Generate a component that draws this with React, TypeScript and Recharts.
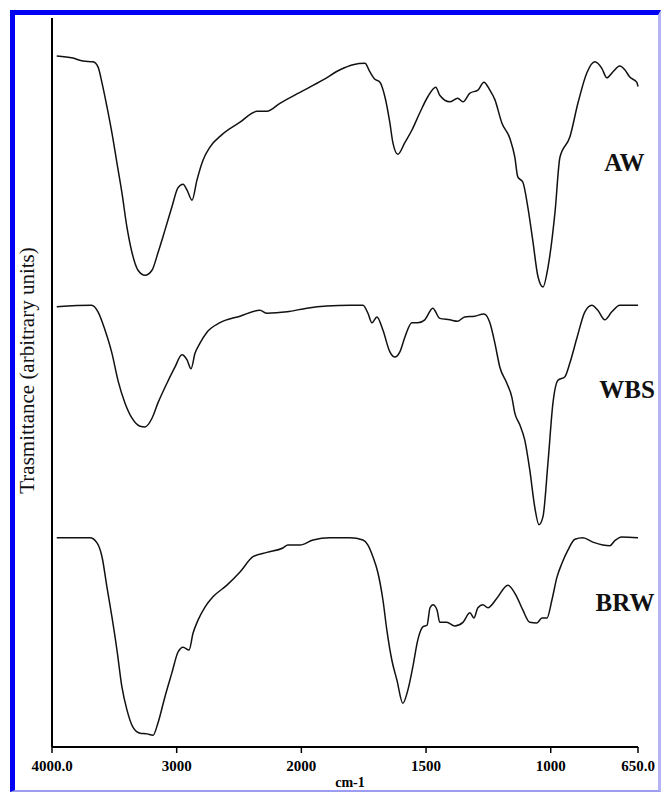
import React from 'react';
import { LineChart, Line, XAxis, YAxis, ReferenceDot } from 'recharts';

// wavenumbers (cm-1) and transmittance (arbitrary units)
const awWn = [3962, 3832, 3751, 3671, 3631, 3599, 3559, 3519, 3479, 3439, 3399, 3358, 3310, 3254, 3198, 3150, 3094, 3038, 2990, 2949, 2917, 2877, 2837, 2789, 2733, 2637, 2492, 2356, 2276, 2172, 2011, 1913, 1845, 1793, 1745, 1725, 1705, 1685, 1665, 1645, 1633, 1613, 1585, 1557, 1525, 1493, 1461, 1445, 1405, 1373, 1352, 1324, 1292, 1268, 1244, 1224, 1196, 1164, 1144, 1132, 1112, 1092, 1072, 1051, 1031, 1011, 983, 963, 923, 891, 855, 823, 795, 775, 751, 723, 703, 683, 655, 650];
const awT = [94.8, 94.5, 94.1, 94.0, 93.3, 91.1, 87.8, 84.2, 80.1, 76.0, 71.3, 67.8, 65.4, 64.7, 65.4, 67.8, 70.9, 74.1, 76.7, 77.2, 76.4, 75.0, 77.8, 80.5, 82.3, 84.0, 85.7, 87.2, 87.2, 88.3, 89.8, 91.5, 92.9, 93.6, 93.8, 92.6, 91.6, 91.2, 89.2, 85.6, 82.9, 81.3, 82.9, 84.6, 87.0, 89.2, 90.5, 89.4, 88.5, 89.0, 88.5, 89.7, 90.1, 91.2, 90.1, 88.8, 85.6, 83.5, 80.9, 78.2, 77.5, 74.1, 69.5, 64.5, 63.1, 65.8, 73.3, 80.9, 83.7, 88.3, 92.5, 94.0, 93.1, 91.8, 92.6, 93.4, 92.9, 91.9, 91.2, 90.6];

const wbsWn = [3962, 3682, 3631, 3575, 3519, 3471, 3415, 3358, 3294, 3254, 3198, 3150, 3078, 3014, 2958, 2917, 2885, 2853, 2813, 2757, 2653, 2492, 2332, 2276, 2115, 1978, 1897, 1805, 1753, 1733, 1717, 1697, 1673, 1645, 1625, 1605, 1585, 1557, 1533, 1505, 1473, 1445, 1405, 1373, 1345, 1305, 1268, 1244, 1224, 1204, 1176, 1156, 1144, 1124, 1104, 1084, 1064, 1047, 1031, 1011, 991, 971, 943, 923, 895, 863, 835, 811, 783, 755, 723, 650];
const wbsT = [60.4, 60.6, 59.7, 57.2, 54.0, 50.3, 47.2, 45.1, 44.0, 43.9, 45.1, 47.2, 49.9, 52.1, 53.8, 53.1, 51.9, 54.0, 55.4, 56.9, 58.2, 59.1, 59.9, 59.5, 59.7, 60.2, 60.5, 60.6, 60.6, 59.5, 58.2, 59.0, 57.2, 54.2, 53.5, 54.2, 56.2, 58.2, 58.2, 58.6, 60.2, 58.8, 58.6, 58.4, 59.0, 59.1, 59.4, 58.2, 55.4, 52.1, 49.9, 48.0, 45.8, 44.2, 42.1, 38.0, 32.9, 30.5, 31.6, 39.0, 47.2, 50.3, 50.8, 52.7, 56.1, 59.7, 60.6, 59.9, 58.6, 59.7, 60.6, 60.6];

const brwWn = [3962, 3695, 3639, 3599, 3559, 3519, 3479, 3439, 3399, 3350, 3294, 3238, 3190, 3150, 3094, 3038, 2990, 2949, 2901, 2869, 2829, 2773, 2709, 2597, 2492, 2388, 2276, 2148, 2108, 2011, 1953, 1885, 1805, 1753, 1733, 1713, 1693, 1673, 1657, 1637, 1617, 1593, 1573, 1553, 1533, 1512, 1496, 1484, 1472, 1456, 1445, 1417, 1385, 1352, 1324, 1308, 1292, 1272, 1252, 1216, 1172, 1136, 1112, 1084, 1056, 1035, 1015, 995, 975, 955, 931, 903, 871, 831, 791, 763, 743, 715, 650];
const brwT = [28.7, 28.7, 28.0, 26.1, 21.9, 17.8, 13.3, 8.2, 5.1, 2.7, 1.9, 1.8, 1.6, 3.3, 6.9, 10.2, 13.0, 13.7, 13.3, 15.6, 17.4, 19.2, 20.6, 22.2, 24.0, 26.1, 26.7, 27.3, 27.7, 27.7, 28.4, 28.7, 28.7, 28.4, 27.7, 26.1, 23.9, 20.2, 16.0, 11.9, 9.2, 6.0, 7.8, 11.0, 14.7, 16.5, 16.7, 19.1, 19.5, 18.8, 17.1, 17.1, 16.6, 17.1, 18.4, 17.7, 19.1, 19.5, 19.1, 20.4, 22.2, 20.6, 18.8, 17.1, 17.0, 17.7, 17.7, 20.2, 23.3, 25.2, 27.0, 28.5, 28.7, 28.1, 27.7, 27.6, 28.3, 28.8, 28.7];

const tickWn = [4000, 3000, 2000, 1500, 1000, 650];
const tickLabels = ['4000.0', '3000', '2000', '1500', '1000', '650.0'];

const sampleNames = ['AW', 'WBS', 'BRW'];
const sampleLabelWn = [705, 694, 702];
const sampleLabelT = [80.2, 49.1, 19.9];

// the instrument plots 4000-2000 at half the scale of 2000-650
const toPos = (wn: number) => (wn >= 2000 ? (4000 - wn) / 1000 : 2 + (2000 - wn) / 500);

const build = (wn: number[], t: number[]) => wn.map((w, i) => ({ pos: toPos(w), t: t[i] }));

const series = [build(awWn, awT), build(wbsWn, wbsT), build(brwWn, brwT)];
const tickPos = tickWn.map(toPos);

const serif = '"Liberation Serif", "Times New Roman", serif';

const YLabel = (props: any) => {
  const vb = props.viewBox || { x: 2, y: 18, width: 50, height: 729 };
  const cx = vb.x + vb.width / 2;
  const cy = vb.y + vb.height / 2 - 12;
  return (
    <text
      x={cx}
      y={cy}
      transform={`rotate(-90 ${cx} ${cy})`}
      textAnchor="middle"
      dominantBaseline="central"
      fontFamily={serif}
      fontSize={21}
      fill="#111"
    >
      Trasmittance (arbitrary units)
    </text>
  );
};

const App = () => {
  return (
    <div style={{ position: 'absolute', left: 0, top: 0, width: 661, height: 792, background: '#fff' }}>
      <div
        style={{
          position: 'absolute',
          left: 10,
          top: 10,
          width: 651,
          height: 782,
          boxSizing: 'border-box',
          borderTop: '5px solid #0000f5',
          borderLeft: '5px solid #0000f5',
          borderRight: '3px solid #b4b4f4',
          borderBottom: '2px solid #9c9cf0',
        }}
      />
      <div style={{ position: 'absolute', left: 0, top: 0 }}>
        <LineChart width={661} height={792} margin={{ top: 18, right: 23, left: 2, bottom: 0 }}>
          <XAxis
            type="number"
            dataKey="pos"
            domain={[0, 4.7]}
            ticks={tickPos}
            tickFormatter={(v: number) => tickLabels[tickPos.findIndex((p) => Math.abs(p - v) < 1e-6)] ?? ''}
            height={45}
            axisLine={{ stroke: '#000', strokeWidth: 2 }}
            tickLine={{ stroke: '#000', strokeWidth: 1.5 }}
            tickSize={6}
            tickMargin={7}
            interval={0}
            tick={{ fontFamily: serif, fontSize: 15, fontWeight: 'bold', fill: '#000' }}
            label={{ value: 'cm-1', position: 'insideBottom', offset: 5, dx: 5, fontFamily: serif, fontSize: 14, fontWeight: 'bold', fill: '#000' }}
          />
          <YAxis
            type="number"
            domain={[0, 100]}
            width={50}
            tick={false}
            tickLine={false}
            axisLine={{ stroke: '#000', strokeWidth: 2 }}
            label={<YLabel />}
          />
          {series.map((d, i) => (
            <Line
              key={sampleNames[i]}
              data={d}
              dataKey="t"
              type="monotone"
              stroke="#111"
              strokeWidth={1.5}
              dot={false}
              activeDot={false}
              isAnimationActive={false}
            />
          ))}
          {sampleNames.map((name, i) => (
            <ReferenceDot
              key={name}
              x={toPos(sampleLabelWn[i])}
              y={sampleLabelT[i]}
              r={0}
              stroke="none"
              fill="none"
              label={{ value: name, position: 'center', fontFamily: serif, fontSize: 25, fontWeight: 'bold', fill: '#111' }}
            />
          ))}
        </LineChart>
      </div>
    </div>
  );
};

export default App;
